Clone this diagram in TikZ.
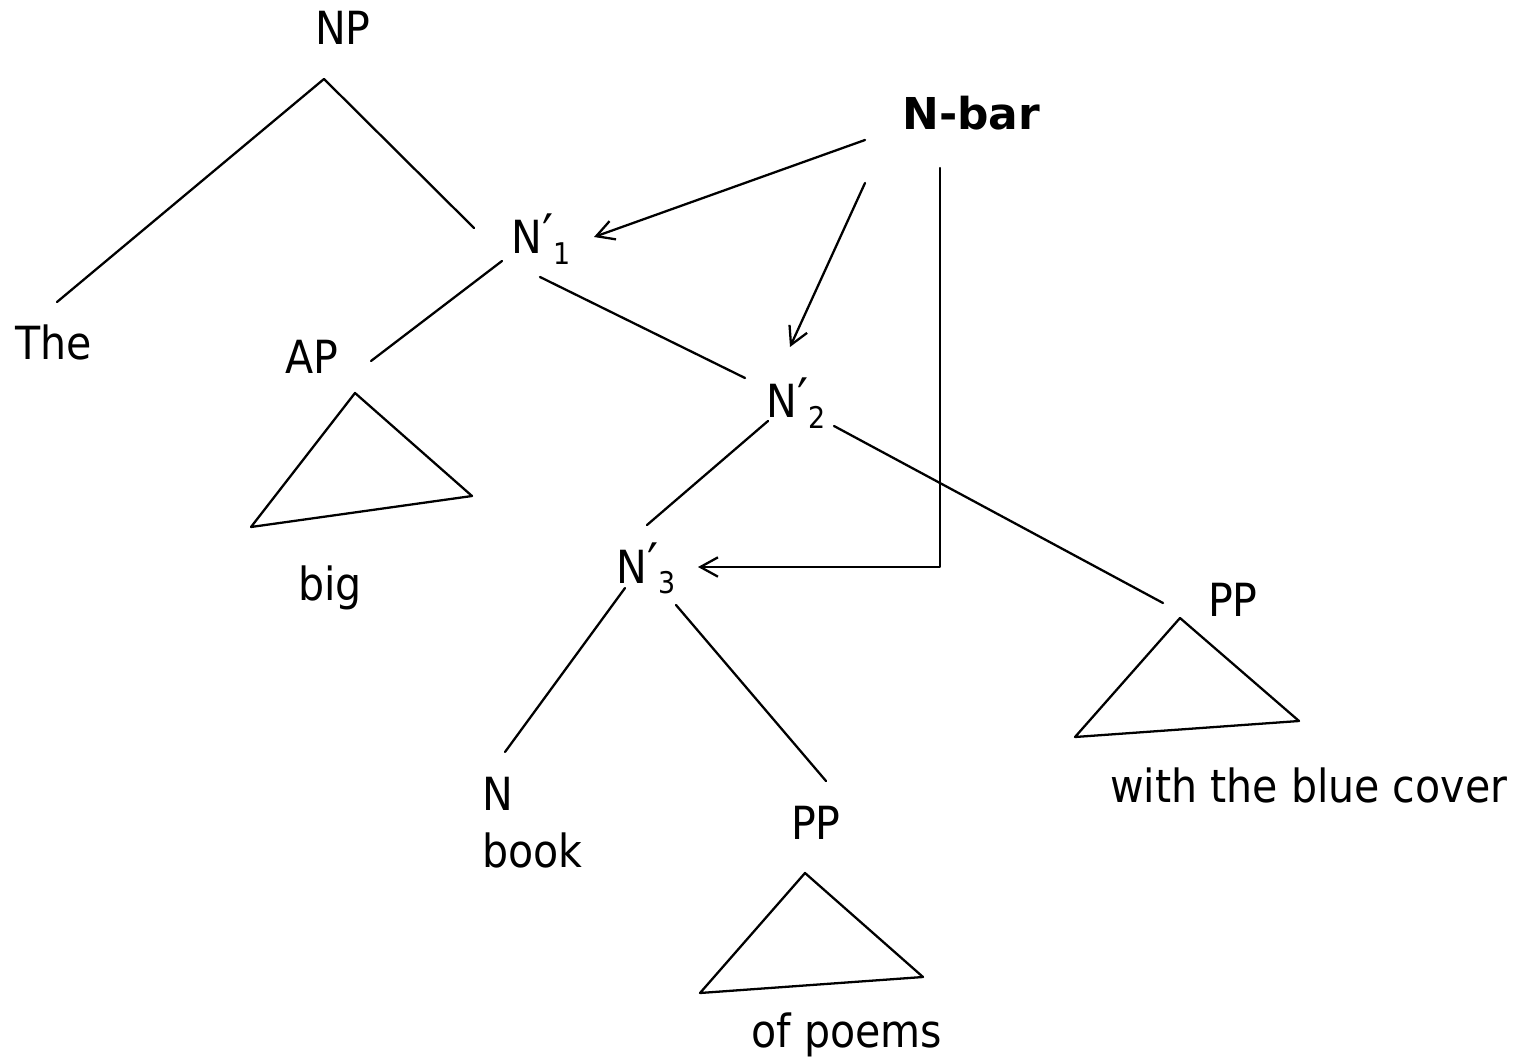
\documentclass[tikz,border=0pt]{standalone}
\usepackage{fontspec}
\setmainfont{DejaVu Sans Condensed}
\newfontfamily\headfont{DejaVu Sans}
\usetikzlibrary{arrows.meta}
\newcommand{\subidx}[1]{\raisebox{-6.2pt}{\fontsize{17}{17}\selectfont #1}}
\newcommand{\bprime}{\raisebox{0.5pt}{\fontsize{31}{31}\selectfont ′}}
\begin{document}
\begin{tikzpicture}[x=0.02cm,y=-0.02cm,
  lbl/.style={inner sep=0pt, font=\fontsize{26}{26}\selectfont},
  edge/.style={line width=1.3pt, line cap=round, line join=round},
  pointer/.style={edge, -{Straight Barb[length=10pt,width=11pt,line width=1.3pt]}}]
\useasboundingbox (0,0) rectangle (1530,1060);

% category and word labels
\node[lbl, anchor=base] (np) at (343,45) {NP};
\node[lbl, anchor=base west, font=\fontsize{25}{25}\headfont\bfseries] (nbar) at (902,130) {N-bar};
\node[lbl, anchor=base west] (n1) at (511,254) {N\bprime\subidx{1}};
\node[lbl, anchor=base] (the) at (54,360) {The};
\node[lbl, anchor=base] (ap) at (312,374) {AP};
\node[lbl, anchor=base west] (n2) at (766,418) {N\bprime\subidx{2}};
\node[lbl, anchor=base west] (n3) at (616,583) {N\bprime\subidx{3}};
\node[lbl, anchor=base] (big) at (330,600) {big};
\node[lbl, anchor=base] (pp1) at (1233,616) {PP};
\node[lbl, anchor=base west] (n) at (482,810) {N};
\node[lbl, anchor=base west] (book) at (482,867) {book};
\node[lbl, anchor=base] (pp2) at (816,839) {PP};
\node[lbl, anchor=base west] (cover) at (1110,802) {with the blue cover};
\node[lbl, anchor=base] (poems) at (847,1047) {of poems};

% branch end points
\coordinate (np-b) at (324,79);
\coordinate (the-t) at (57,302);
\coordinate (n1-t) at (474,228);
\coordinate (n1-bl) at (502,261);
\coordinate (ap-t) at (371,361);
\coordinate (n1-br) at (540,277);
\coordinate (n2-t) at (745,378);
\coordinate (n2-bl) at (768,421);
\coordinate (n3-t) at (647,525);
\coordinate (n2-br) at (834,426);
\coordinate (pp1-t) at (1163,603);
\coordinate (n3-bl) at (625,588);
\coordinate (n-t) at (505,752);
\coordinate (n3-br) at (676,605);
\coordinate (pp2-t) at (826,781);

% tree branches
\draw[edge] (the-t) -- (np-b) -- (n1-t);
\draw[edge] (n1-bl) -- (ap-t);
\draw[edge] (n1-br) -- (n2-t);
\draw[edge] (n2-bl) -- (n3-t);
\draw[edge] (n2-br) -- (pp1-t);
\draw[edge] (n3-bl) -- (n-t);
\draw[edge] (n3-br) -- (pp2-t);

% roofs over unanalysed phrases
\coordinate (ap-r1) at (355,393);
\coordinate (ap-r2) at (472,496);
\coordinate (ap-r3) at (251,527);
\draw[edge] (ap-r1) -- (ap-r2) -- (ap-r3) -- cycle;
\coordinate (pp1-r1) at (1180,618);
\coordinate (pp1-r2) at (1299,721);
\coordinate (pp1-r3) at (1075,737);
\draw[edge] (pp1-r1) -- (pp1-r2) -- (pp1-r3) -- cycle;
\coordinate (pp2-r1) at (805,873);
\coordinate (pp2-r2) at (923,977);
\coordinate (pp2-r3) at (700,993);
\draw[edge] (pp2-r1) -- (pp2-r2) -- (pp2-r3) -- cycle;

% N-bar pointers
\coordinate (nbar-a) at (865,140);
\coordinate (n1-p) at (594,237);
\draw[pointer] (nbar-a) -- (n1-p);
\coordinate (nbar-b) at (865,183);
\coordinate (n2-p) at (790,347);
\draw[pointer] (nbar-b) -- (n2-p);
\coordinate (nbar-c) at (940,168);
\coordinate (bend) at (940,567);
\coordinate (n3-p) at (698,567);
\draw[pointer] (nbar-c) -- (bend) -- (n3-p);
\end{tikzpicture}
\end{document}
